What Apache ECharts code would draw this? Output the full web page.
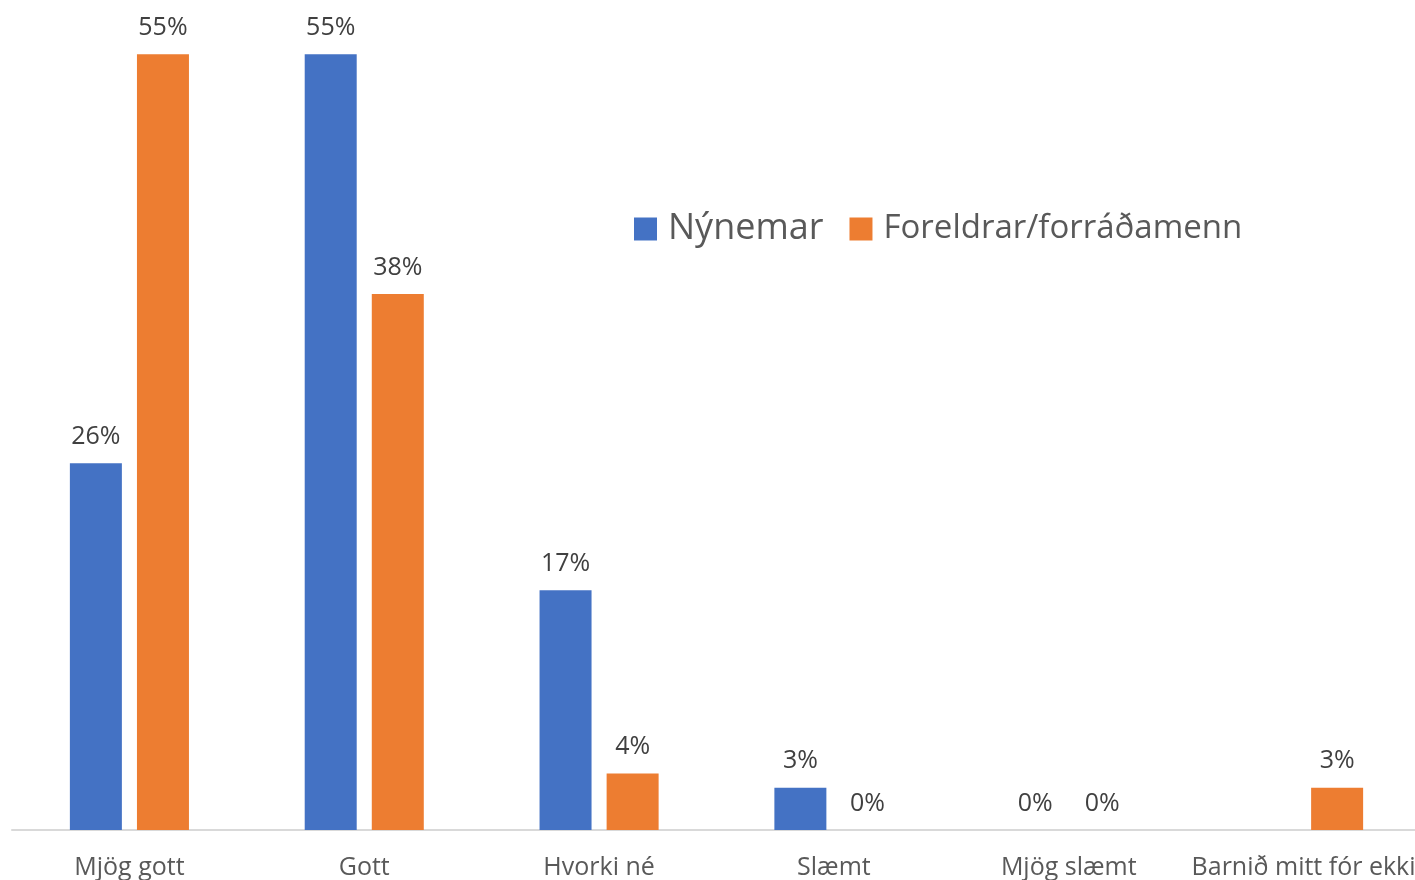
<!DOCTYPE html>
<html>
<head>
<meta charset="utf-8">
<script src="https://cdn.jsdelivr.net/npm/echarts@6/dist/echarts.min.js"></script>
<style>
  html, body { margin: 0; padding: 0; background: #fff; }
  #chart { width: 1415px; height: 880px; }
</style>
</head>
<body>
<div id="chart"></div>
<script>
const categories = ['Mjög gott', 'Gott', 'Hvorki né', 'Slæmt', 'Mjög slæmt', 'Barnið mitt fór ekki']
const nynemar = [26, 55, 17, 3, 0, null]
const foreldrar = [55, 38, 4, 0, 0, 3]

const FONT = 'Open Sans'

function barSeries (name, data, color) {
  return {
    name,
    type: 'bar',
    data,
    barWidth: 52,
    barGap: '29%',
    itemStyle: { color },
    label: {
      show: true,
      position: 'top',
      distance: 14,
      formatter: p => p.value == null ? '' : p.value + '%',
      color: '#404040',
      fontFamily: FONT,
      fontSize: 25
    }
  }
}

const chart = echarts.init(document.getElementById('chart'))
chart.setOption({
  animation: false,
  grid: { left: 12, width: 1409, top: 12, bottom: 50, outerBoundsMode: 'none' },
  legend: {
    left: 629,
    top: 206,
    itemWidth: 23,
    itemHeight: 23,
    itemGap: 26,
    icon: 'rect',
    data: ['Nýnemar', 'Foreldrar/forráðamenn'],
    formatter: name => name === 'Nýnemar' ? '{a|' + name + '}' : '{b|' + name + '}',
    textStyle: {
      color: '#595959',
      fontFamily: FONT,
      rich: {
        a: { fontSize: 36, fontFamily: FONT, color: '#595959', padding: [0, 0, 0, 6] },
        b: { fontSize: 33, fontFamily: FONT, color: '#595959', padding: [0, 0, 0, 6] }
      }
    }
  },
  xAxis: {
    type: 'category',
    data: categories,
    axisLine: { lineStyle: { color: '#d9d9d9', width: 2 } },
    axisTick: { show: false },
    axisLabel: {
      color: '#595959',
      fontFamily: FONT,
      fontSize: 25,
      margin: 25,
      interval: 0
    }
  },
  yAxis: {
    type: 'value',
    min: 0,
    max: 58,
    show: false,
    splitLine: { show: false }
  },
  series: [
    barSeries('Nýnemar', nynemar, '#4472C4'),
    barSeries('Foreldrar/forráðamenn', foreldrar, '#ED7D31')
  ]
})
</script>
</body>
</html>
